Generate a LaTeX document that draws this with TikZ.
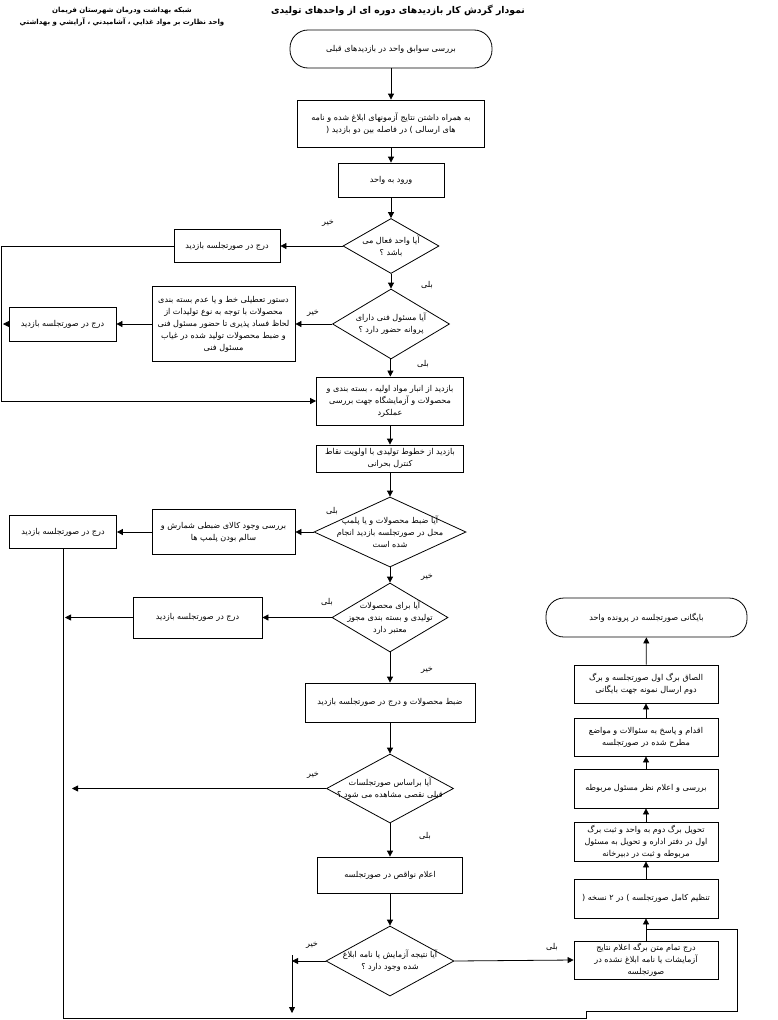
\documentclass[tikz,border=0pt]{standalone}
\usepackage{fontspec}
\usetikzlibrary{arrows.meta,shapes.geometric}
\newfontfamily\arabicfont[Script=Arabic]{DejaVu Sans}
\TeXXeTstate=1
\newcommand{\ar}[1]{\beginR #1\endR}
\begin{document}
\begin{tikzpicture}[x=1pt,y=-1pt,
  every node/.style={font=\arabicfont\fontsize{8.1}{12}\selectfont},
  box/.style={draw, line width=0.8pt, rectangle, inner sep=1pt, align=center},
  term/.style={draw, line width=0.8pt, rectangle, rounded corners=18pt, inner sep=1pt, align=center},
  dec/.style={draw, line width=0.8pt, diamond, inner sep=0pt},
  txt/.style={align=center, inner sep=0pt},
  yn/.style={inner sep=0pt},
  arr/.style={line width=0.8pt, -{Triangle[length=6pt,width=6pt]}},
  ln/.style={line width=0.8pt}
]
\useasboundingbox (0,0) rectangle (778,1020);

% headings
\node[txt, font=\arabicfont\bfseries\fontsize{9.3}{12}\selectfont] (title) at (398,10) {\ar{نمودار گردش کار بازدیدهای دوره ای از واحدهای تولیدی}};
\node[txt, font=\arabicfont\bfseries\fontsize{7}{12}\selectfont] (head) at (122,17) {\ar{شبکه بهداشت ودرمان شهرستان فریمان}\\\ar{واحد نظارت بر مواد غذايي ، آشاميدني ، آرايشي و بهداشتي}};

% main column
\node[term, minimum width=202pt, minimum height=38pt] (start) at (391,49) {\ar{بررسی سوابق واحد در بازدیدهای قبلی}};
\node[box, minimum width=187pt, minimum height=47pt] (b2) at (391,123.5) {\ar{به همراه داشتن نتایج آزمونهای ابلاغ شده و نامه}\\\ar{های ارسالی ) در فاصله بین دو بازدید (}};
\node[box, minimum width=106pt, minimum height=34pt] (b3) at (391,180) {\ar{ورود به واحد}};
\node[dec, minimum width=96pt, minimum height=55pt] (d1) at (391,246) {};
\node[txt] (d1t) at (d1) {\ar{آیا واحد فعال می}\\\ar{باشد ؟}};
\node[dec, minimum width=117pt, minimum height=70pt] (d2) at (391,324) {};
\node[txt] (d2t) at (d2) {\ar{آیا مسئول فنی دارای}\\\ar{پروانه حضور دارد ؟}};
\node[box, minimum width=147pt, minimum height=48pt] (b4) at (390,401) {\ar{بازدید از انبار مواد اولیه ، بسته بندی و}\\\ar{محصولات و آزمایشگاه جهت بررسی}\\\ar{عملکرد}};
\node[box, minimum width=147pt, minimum height=27pt, inner sep=0pt] (b5) at (390,458.5) {\ar{بازدید از خطوط تولیدی با اولویت نقاط}\\\ar{کنترل بحرانی}};
\node[dec, minimum width=152pt, minimum height=70pt] (d3) at (390,532) {};
\node[txt] (d3t) at (d3) {\ar{آیا ضبط محصولات و یا پلمپ}\\\ar{محل در صورتجلسه بازدید انجام}\\\ar{شده است}};
\node[dec, minimum width=116pt, minimum height=69pt] (d4) at (390,617.5) {};
\node[txt] (d4t) at (d4) {\ar{آیا برای محصولات}\\\ar{تولیدی و بسته بندی مجوز}\\\ar{معتبر دارد}};
\node[box, minimum width=170pt, minimum height=39pt] (b6) at (390,702.5) {\ar{ضبط محصولات و درج در صورتجلسه بازدید}};
\node[dec, minimum width=127pt, minimum height=69pt] (d5) at (390,788.5) {};
\node[txt] (d5t) at (d5) {\ar{آیا براساس صورتجلسات}\\\ar{قبلی نقصی مشاهده می شود ؟}};
\node[box, minimum width=145pt, minimum height=36pt] (b7) at (390,875) {\ar{اعلام نواقص در صورتجلسه}};
\node[dec, minimum width=128pt, minimum height=70pt] (d6) at (390,961) {};
\node[txt] (d6t) at (d6) {\ar{آیا نتیجه آزمایش یا نامه ابلاغ}\\\ar{شده وجود دارد ؟}};

% left column
\node[box, minimum width=106pt, minimum height=33pt] (l1) at (227,246) {\ar{درج در صورتجلسه بازدید}};
\node[box, minimum width=143pt, minimum height=75pt] (stop) at (223.5,324) {\ar{دستور تعطیلی خط و یا عدم بسته بندی}\\\ar{محصولات با توجه به نوع تولیدات از}\\\ar{لحاظ فساد پذیری تا حضور مسئول فنی}\\\ar{و ضبط محصولات تولید شده در غیاب}\\\ar{مسئول فنی}};
\node[box, minimum width=107pt, minimum height=34pt] (l2) at (62.5,324) {\ar{درج در صورتجلسه بازدید}};
\node[box, minimum width=143pt, minimum height=45pt] (chk) at (223.5,532) {\ar{بررسی وجود کالای ضبطی شمارش و}\\\ar{سالم بودن پلمپ ها}};
\node[box, minimum width=107pt, minimum height=33pt] (l3) at (63,532) {\ar{درج در صورتجلسه بازدید}};
\node[box, minimum width=129pt, minimum height=41pt] (l4) at (197.5,617.5) {\ar{درج در صورتجلسه بازدید}};

% right column
\node[box, minimum width=144pt, minimum height=38pt] (r8) at (646,960) {\ar{درج تمام متن برگه اعلام نتایج}\\\ar{آزمایشات یا نامه ابلاغ نشده در}\\\ar{صورتجلسه}};
\node[box, minimum width=144pt, minimum height=39pt] (r9) at (646,898.5) {\ar{تنظیم کامل صورتجلسه ) در ۲ نسخه (}};
\node[box, minimum width=144pt, minimum height=39pt] (r10) at (646,841.5) {\ar{تحویل برگ دوم به واحد و ثبت برگ}\\\ar{اول در دفتر اداره و تحویل به مسئول}\\\ar{مربوطه و ثبت در دبیرخانه}};
\node[box, minimum width=144pt, minimum height=39pt] (r11) at (646,788.5) {\ar{بررسی و اعلام نظر مسئول مربوطه}};
\node[box, minimum width=144pt, minimum height=38pt] (r12) at (646,737) {\ar{اقدام و پاسخ به سئوالات و مواضع}\\\ar{مطرح شده در صورتجلسه}};
\node[box, minimum width=144pt, minimum height=38pt] (r13) at (646,684) {\ar{الصاق برگ اول صورتجلسه و برگ}\\\ar{دوم ارسال نمونه جهت بایگانی}};
\node[term, minimum width=201pt, minimum height=39pt] (end) at (646.5,617.5) {\ar{بایگانی صورتجلسه در پرونده واحد}};

% yes / no labels
\node[yn] (y1) at (328,223) {\ar{خیر}};
\node[yn] (y2) at (427,285) {\ar{بلی}};
\node[yn] (y3) at (313,313) {\ar{خیر}};
\node[yn] (y4) at (423,364) {\ar{بلی}};
\node[yn] (y5) at (332,511) {\ar{بلی}};
\node[yn] (y6) at (427,577) {\ar{خیر}};
\node[yn] (y7) at (327,602) {\ar{بلی}};
\node[yn] (y8) at (427,670) {\ar{خیر}};
\node[yn] (y9) at (313,775) {\ar{خیر}};
\node[yn] (y10) at (425,836) {\ar{بلی}};
\node[yn] (y11) at (312,945) {\ar{خیر}};
\node[yn] (y12) at (552,947) {\ar{بلی}};

% helper coordinates
\coordinate (xl) at (1,0);
\coordinate (t2) at (3,324);
\coordinate (t4) at (65,617.5);
\coordinate (t5) at (72,788.5);
\coordinate (t6) at (292,961);
\coordinate (v6a) at (292,955);
\coordinate (v6b) at (292,1013);
\coordinate (p1) at (63,1018);
\coordinate (p2) at (586,1018);
\coordinate (p3) at (586,1011);
\coordinate (p4) at (737,1011);
\coordinate (p5) at (737,929);
\coordinate (p6) at (646,929);

% main flow
\draw[arr] (start) -- (b2);
\draw[arr] (b2) -- (b3);
\draw[arr] (b3) -- (d1);
\draw[arr] (d1) -- (d2);
\draw[arr] (d2) -- (b4);
\draw[arr] (b4) -- (b5);
\draw[arr] (b5) -- (d3);
\draw[arr] (d3) -- (d4);
\draw[arr] (d4) -- (b6);
\draw[arr] (b6) -- (d5);
\draw[arr] (d5) -- (b7);
\draw[arr] (b7) -- (d6);

% branches
\draw[arr] (d1.west) -- (l1.east);
\draw[arr] (l1.west) -- (l1.west -| xl) |- (b4.west);
\draw[arr] (d2.west) -- (stop.east);
\draw[arr] (stop.west) -- (l2.east);
\draw[arr] (l2.west) -- (t2);
\draw[arr] (d3.west) -- (chk.east);
\draw[arr] (chk.west) -- (l3.east);
\draw[ln] (l3.south) -- (p1) -- (p2) -- (p3) -- (p4) -- (p5) -- (p6);
\draw[arr] (d4.west) -- (l4.east);
\draw[arr] (l4.west) -- (t4);
\draw[arr] (d5.west) -- (t5);
\draw[arr] (d6.west) -- (t6);
\draw[arr] (v6a) -- (v6b);
\draw[arr] (d6.east) -- (r8.west);

% right column flow
\draw[arr] (r8) -- (r9);
\draw[arr] (r9) -- (r10);
\draw[arr] (r10) -- (r11);
\draw[arr] (r11) -- (r12);
\draw[arr] (r12) -- (r13);
\draw[arr] (r13) -- (end);
\end{tikzpicture}
\end{document}
